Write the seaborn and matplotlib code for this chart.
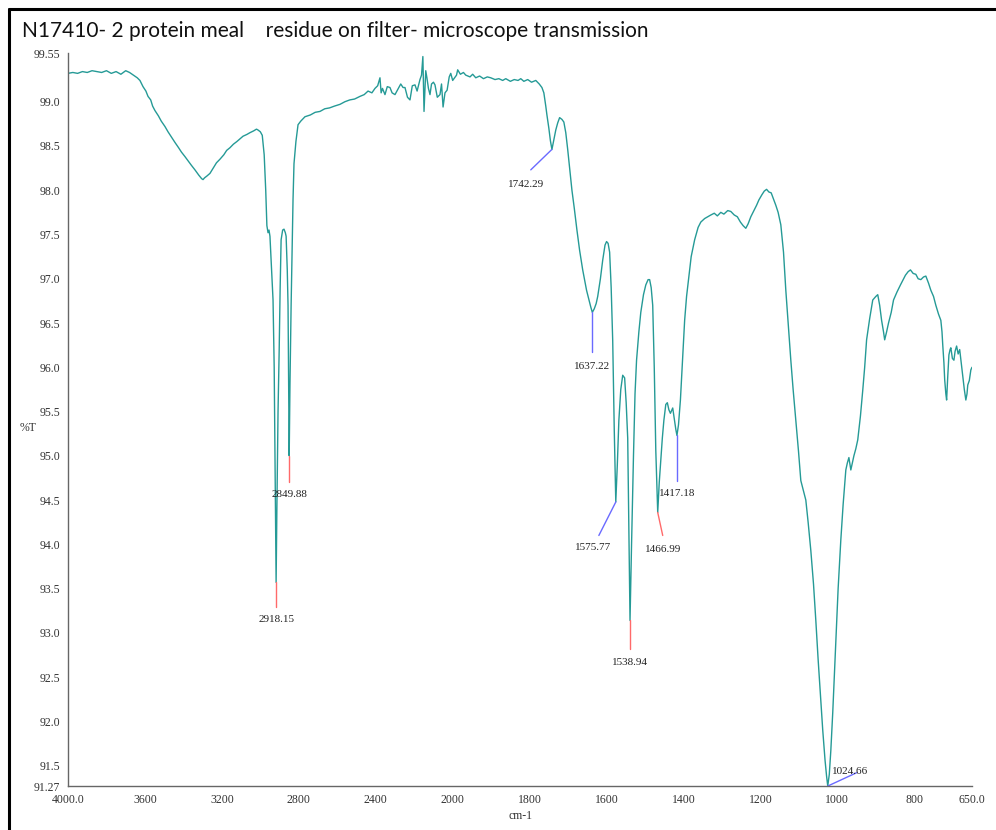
import numpy as np
import pandas as pd
import matplotlib
matplotlib.use("Agg")
import matplotlib.pyplot as plt
import seaborn as sns
from matplotlib.lines import Line2D

# ---------------- data ----------------
wavenumber = [
    4000, 3975, 3950, 3925, 3900, 3875, 3850, 3825, 3800, 3775, 3750, 3725, 3700, 3680, 3660, 3640,
    3626, 3610, 3595, 3584, 3570, 3560, 3548, 3530, 3515, 3496, 3480, 3462, 3444, 3425, 3410, 3392,
    3375, 3358, 3340, 3320, 3305, 3298, 3290, 3278, 3262, 3245, 3228, 3210, 3190, 3175, 3158, 3140,
    3122, 3106, 3090, 3070, 3054, 3035, 3020, 3012, 3000, 2990, 2980, 2972, 2966, 2960, 2955, 2950,
    2944, 2934, 2928, 2924, 2920, 2918, 2914, 2908, 2902, 2897, 2892, 2884, 2877, 2870, 2866, 2860,
    2856, 2853, 2850, 2846, 2840, 2835, 2830, 2825, 2815, 2804, 2790, 2768, 2740, 2715, 2690, 2665,
    2640, 2615, 2586, 2560, 2535, 2510, 2482, 2460, 2440, 2420, 2404, 2390, 2378, 2372, 2365, 2352,
    2340, 2326, 2315, 2300, 2285, 2270, 2258, 2248, 2235, 2222, 2210, 2196, 2185, 2170, 2162, 2155,
    2152, 2149, 2145, 2140, 2134, 2126, 2118, 2110, 2100, 2092, 2080, 2066, 2058, 2050, 2040, 2029,
    2018, 2010, 2000, 1990, 1987, 1980, 1972, 1966, 1955, 1948, 1940, 1930, 1920, 1910, 1901, 1890,
    1880, 1870, 1862, 1850, 1840, 1830, 1823, 1815, 1805, 1795, 1784, 1775, 1768, 1763, 1758, 1755,
    1750, 1746, 1742, 1738, 1732, 1727, 1722, 1716, 1711, 1706, 1701, 1696, 1690, 1684, 1677, 1670,
    1662, 1652, 1645, 1641, 1637, 1632, 1627, 1623, 1616, 1610, 1604, 1600, 1596, 1592, 1588, 1584,
    1580, 1576, 1572, 1568, 1563, 1558, 1553, 1549, 1545, 1542, 1539, 1535, 1530, 1526, 1522, 1516,
    1511, 1504, 1498, 1492, 1488, 1484, 1480, 1476, 1472, 1467, 1463, 1459, 1455, 1451, 1446, 1442,
    1438, 1434, 1428, 1424, 1420, 1417, 1413, 1408, 1403, 1397, 1392, 1387, 1380, 1371, 1362, 1355,
    1345, 1337, 1329, 1320, 1312, 1303, 1295, 1285, 1277, 1268, 1260, 1252, 1245, 1238, 1232, 1225,
    1218, 1210, 1204, 1196, 1190, 1184, 1178, 1172, 1166, 1160, 1154, 1147, 1140, 1134, 1128, 1121,
    1115, 1108, 1101, 1095, 1088, 1082, 1076, 1069, 1062, 1056, 1050, 1043, 1038, 1032, 1028, 1025,
    1021, 1017, 1012, 1008, 1004, 998, 991, 985, 978, 974, 970, 965, 961, 957, 952, 947,
    940, 934, 929, 924, 916, 908, 900, 895, 890, 885, 880, 877, 872, 867, 860, 854,
    845, 836, 830, 823, 816, 810, 803, 796, 790, 783, 776, 770, 763, 757, 750, 744,
    737, 731, 728, 726, 723, 721, 718, 716, 713, 710, 707, 705, 701, 697, 694, 690,
    686, 682, 678, 674, 670, 666, 663, 661, 657, 653, 650,
]
transmittance = [
    99.32, 99.33, 99.32, 99.34, 99.33, 99.35, 99.34, 99.33, 99.35, 99.32, 99.34, 99.31, 99.35, 99.33, 99.30, 99.27,
    99.24, 99.17, 99.12, 99.06, 99.02, 98.95, 98.90, 98.84, 98.78, 98.72, 98.66, 98.60, 98.54, 98.48, 98.43, 98.38,
    98.33, 98.28, 98.23, 98.17, 98.13, 98.12, 98.14, 98.16, 98.19, 98.25, 98.31, 98.35, 98.40, 98.45, 98.48, 98.52,
    98.55, 98.58, 98.61, 98.63, 98.65, 98.67, 98.69, 98.68, 98.66, 98.62, 98.40, 98.00, 97.60, 97.52, 97.55, 97.48,
    97.20, 96.76, 96.00, 95.06, 94.10, 93.57, 94.40, 95.50, 96.20, 96.90, 97.44, 97.55, 97.56, 97.52, 97.48, 97.10,
    96.70, 95.90, 95.00, 95.80, 96.70, 97.33, 97.90, 98.30, 98.55, 98.74, 98.78, 98.83, 98.85, 98.88, 98.89, 98.92,
    98.93, 98.95, 98.97, 99.00, 99.02, 99.03, 99.06, 99.08, 99.12, 99.10, 99.15, 99.18, 99.27, 99.10, 99.15, 99.08,
    99.17, 99.16, 99.10, 99.08, 99.14, 99.20, 99.16, 99.16, 99.05, 99.02, 99.18, 99.19, 99.12, 99.25, 99.30, 99.51,
    99.20, 98.89, 99.10, 99.35, 99.27, 99.15, 99.08, 99.20, 99.22, 99.19, 99.05, 99.08, 99.20, 98.94, 99.10, 99.13,
    99.28, 99.32, 99.24, 99.30, 99.36, 99.31, 99.33, 99.30, 99.28, 99.31, 99.27, 99.29, 99.26, 99.28, 99.27, 99.25,
    99.26, 99.24, 99.26, 99.23, 99.25, 99.24, 99.26, 99.23, 99.25, 99.22, 99.24, 99.20, 99.16, 99.10, 98.95, 98.85,
    98.70, 98.56, 98.46, 98.55, 98.68, 98.76, 98.82, 98.80, 98.77, 98.65, 98.46, 98.25, 98.00, 97.80, 97.55, 97.32,
    97.10, 96.87, 96.75, 96.68, 96.62, 96.66, 96.72, 96.80, 97.00, 97.21, 97.38, 97.42, 97.40, 97.30, 96.90, 96.30,
    95.30, 94.48, 94.90, 95.40, 95.75, 95.91, 95.88, 95.60, 95.20, 94.20, 93.14, 94.00, 95.00, 95.70, 96.08, 96.40,
    96.62, 96.82, 96.93, 96.99, 96.99, 96.90, 96.70, 96.00, 95.06, 94.36, 94.70, 94.95, 95.20, 95.40, 95.58, 95.60,
    95.52, 95.48, 95.54, 95.42, 95.30, 95.23, 95.35, 95.63, 96.05, 96.53, 96.80, 96.99, 97.25, 97.44, 97.58, 97.64,
    97.68, 97.70, 97.72, 97.74, 97.71, 97.75, 97.73, 97.77, 97.76, 97.72, 97.70, 97.64, 97.60, 97.57, 97.62, 97.70,
    97.76, 97.83, 97.89, 97.95, 97.99, 98.01, 97.98, 97.97, 97.90, 97.83, 97.75, 97.61, 97.30, 96.87, 96.50, 96.08,
    95.75, 95.40, 95.05, 94.72, 94.60, 94.50, 94.25, 93.93, 93.55, 93.14, 92.70, 92.24, 91.90, 91.56, 91.38, 91.27,
    91.40, 91.67, 92.10, 92.50, 92.91, 93.50, 94.05, 94.45, 94.84, 94.92, 94.98, 94.84, 94.92, 95.00, 95.08, 95.18,
    95.45, 95.74, 96.00, 96.31, 96.55, 96.76, 96.80, 96.82, 96.70, 96.53, 96.40, 96.31, 96.40, 96.50, 96.62, 96.76,
    96.85, 96.93, 96.98, 97.04, 97.08, 97.10, 97.06, 97.05, 97.00, 96.99, 97.02, 97.03, 96.95, 96.87, 96.80, 96.70,
    96.60, 96.53, 96.40, 96.25, 96.05, 95.86, 95.70, 95.63, 95.90, 96.14, 96.20, 96.22, 96.10, 96.08, 96.18, 96.24,
    96.15, 96.20, 96.05, 95.90, 95.75, 95.63, 95.70, 95.80, 95.85, 95.97, 96.00,
]

# peak labels
peak_labels = ["2918.15", "2849.88", "1742.29", "1637.22", "1575.77",
               "1538.94", "1466.99", "1417.18", "1024.66"]
peak_wn = [2918.15, 2849.88, 1742.29, 1637.22, 1575.77, 1538.94, 1466.99, 1417.18, 1024.66]
peak_T = [93.57, 95.00, 98.46, 96.62, 94.48, 93.14, 94.36, 95.23, 91.27]
leader_end_wn = [2918.15, 2849.88, 1797, 1637.22, 1620, 1538.94, 1454, 1417.18, 950]
leader_end_T = [93.29, 94.70, 98.23, 96.17, 94.10, 92.82, 94.10, 94.72, 91.42]
label_wn = [2918.15, 2849.88, 1810, 1637.22, 1636, 1538.94, 1454, 1417.18, 968]
label_T = [93.20, 94.61, 98.11, 96.06, 94.01, 92.72, 93.99, 94.62, 91.49]
peak_colors = ["#ff6a6a", "#ff6a6a", "#6a6aff", "#6a6aff", "#6a6aff",
               "#ff6a6a", "#ff6a6a", "#6a6aff", "#6a6aff"]

x_ticks = [4000, 3600, 3200, 2800, 2400, 2000, 1800, 1600, 1400, 1200, 1000, 800, 650]
x_tick_labels = ["4000.0", "3600", "3200", "2800", "2400", "2000", "1800", "1600",
                 "1400", "1200", "1000", "800", "650.0"]
y_ticks = [91.27, 91.5, 92.0, 92.5, 93.0, 93.5, 94.0, 94.5, 95.0, 95.5, 96.0,
           96.5, 97.0, 97.5, 98.0, 98.5, 99.0, 99.55]
y_tick_labels = ["91.27", "91.5", "92.0", "92.5", "93.0", "93.5", "94.0", "94.5", "95.0",
                 "95.5", "96.0", "96.5", "97.0", "97.5", "98.0", "98.5", "99.0", "99.55"]

title = "N17410- 2 protein meal    residue on filter- microscope transmission"

# ---------------- plot ----------------
sns.set_style("white")
plt.rcParams["font.family"] = ["Liberation Serif", "DejaVu Serif"]

df = pd.DataFrame({"wn": wavenumber, "T": transmittance})

fig = plt.figure(figsize=(9.96, 8.3), dpi=100)
ax = fig.add_axes([68 / 996, 1 - 786 / 830, (972 - 68) / 996, (786 - 53) / 830])


def fwd(w):
    w = np.asarray(w, dtype=float)
    return np.where(w >= 2000, w, 2 * w - 2000)


def inv(g):
    g = np.asarray(g, dtype=float)
    return np.where(g >= 2000, g, (g + 2000) / 2)


ax.set_xscale("function", functions=(fwd, inv))

sns.lineplot(data=df, x="wn", y="T", sort=False, estimator=None,
             color="#259a96", linewidth=1.0, ax=ax)

for i in range(len(peak_labels)):
    ax.plot([peak_wn[i], leader_end_wn[i]], [peak_T[i], leader_end_T[i]],
            color=peak_colors[i], linewidth=1.0)
    ax.text(label_wn[i], label_T[i], peak_labels[i], ha="center", va="top",
            fontsize=8, color="#222222")

ax.set_xlim(4000, 650)
ax.set_ylim(91.27, 99.55)
ax.set_xticks(x_ticks)
ax.set_xticklabels(x_tick_labels)
ax.set_yticks(y_ticks)
ax.set_yticklabels(y_tick_labels)
ax.minorticks_off()
ax.set_xlabel("")
ax.set_ylabel("")
ax.tick_params(axis="both", labelsize=8.5, colors="#333333", length=3,
               width=0.8, direction="inout", pad=4)

for s in ["top", "right"]:
    ax.spines[s].set_visible(False)
for s in ["left", "bottom"]:
    ax.spines[s].set_color("#666666")
    ax.spines[s].set_linewidth(1.0)

fig.text(28 / 996, 1 - 428 / 830, "%T", ha="center", va="center", fontsize=8.5, color="#333333")
fig.text(520 / 996, 1 - 816 / 830, "cm-1", ha="center", va="center", fontsize=8.5, color="#333333")
fig.text(22 / 996, 1 - 31 / 830, title, ha="left", va="center", fontsize=15,
         family=["Lato", "DejaVu Sans"], color="#111111")

fig.add_artist(Line2D([9 / 996, 1.0], [1 - 9 / 830, 1 - 9 / 830], color="black",
                      linewidth=2.2, transform=fig.transFigure))
fig.add_artist(Line2D([9 / 996, 9 / 996], [0.0, 1 - 9 / 830], color="black",
                      linewidth=2.2, transform=fig.transFigure))

fig.savefig("out.png", dpi=100)
